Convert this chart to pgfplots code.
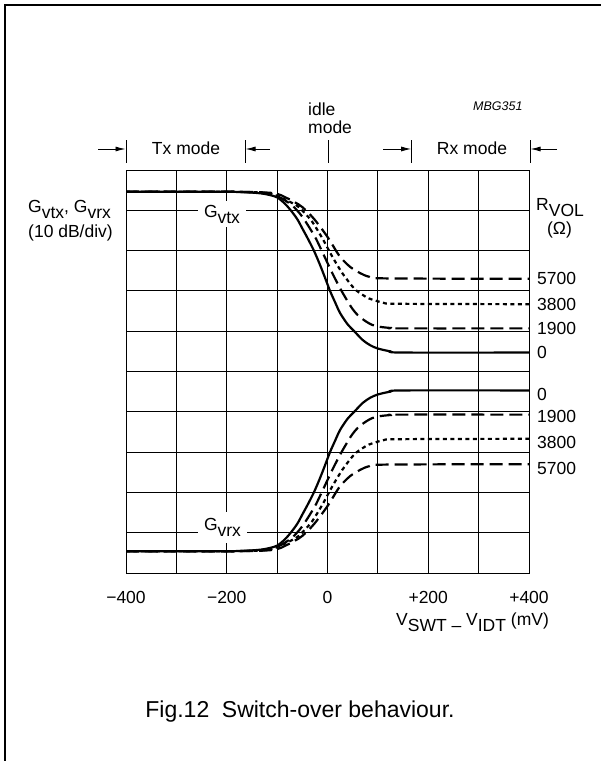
\documentclass[border=0pt]{standalone}
\usepackage{pgfplots}
\pgfplotsset{compat=1.18}
\usepackage{pgfplotstable}
\usepackage{fontspec}
\setmainfont{Liberation Sans}
\usetikzlibrary{arrows.meta}
\newcommand{\lo}[1]{\raisebox{-6pt}{#1}}

% G_vtx curves (x in mV, y in divisions of 10 dB)
\pgfplotstableread{
x y
-400 9.46
-200 9.46
-140 9.43
-115 9.38
-100 9.32
-85 9.17
-73 9.00
-60 8.78
-50 8.55
-40 8.32
-27 8.00
-15 7.65
-5 7.33
5 7.00
15 6.72
25 6.45
40 6.17
53 6.00
70 5.78
85 5.65
100 5.57
125 5.50
150 5.47
400 5.47
}\txzero
\pgfplotstableread{
x y
-400 9.46
-200 9.46
-130 9.43
-100 9.35
-85 9.25
-70 9.12
-55 8.92
-43 8.71
-30 8.45
-23 8.30
-7 7.88
10 7.43
27 7.02
47 6.60
60 6.40
73 6.27
88 6.16
103 6.11
125 6.08
143 6.07
400 6.07
}\txa
\pgfplotstableread{
x y
-400 9.46
-200 9.46
-120 9.43
-90 9.30
-70 9.18
-57 9.08
-43 8.90
-30 8.71
-10 8.30
10 7.84
30 7.43
53 7.06
70 6.90
83 6.81
110 6.71
143 6.68
400 6.67
}\txb
\pgfplotstableread{
x y
-400 9.46
-200 9.46
-110 9.43
-80 9.30
-65 9.20
-50 9.08
-27 8.79
0 8.34
23 7.88
40 7.65
50 7.55
65 7.44
83 7.35
117 7.31
400 7.30
}\txc
% G_vrx curves
\pgfplotstableread{
x y
-400 0.54
-200 0.54
-140 0.57
-115 0.62
-100 0.68
-85 0.83
-73 1.00
-60 1.22
-50 1.45
-40 1.68
-27 2.00
-15 2.35
-5 2.67
5 3.00
15 3.28
25 3.55
40 3.83
53 4.00
70 4.22
85 4.35
100 4.43
125 4.50
150 4.53
400 4.53
}\rxzero
\pgfplotstableread{
x y
-400 0.54
-200 0.54
-130 0.57
-100 0.65
-85 0.75
-70 0.88
-55 1.08
-43 1.29
-30 1.55
-23 1.70
-7 2.12
10 2.57
27 2.98
47 3.40
60 3.60
73 3.73
88 3.84
103 3.89
125 3.92
143 3.93
400 3.93
}\rxa
\pgfplotstableread{
x y
-400 0.54
-200 0.54
-120 0.57
-90 0.70
-70 0.82
-57 0.92
-43 1.10
-30 1.29
-10 1.70
10 2.16
30 2.57
53 2.94
70 3.10
83 3.19
110 3.29
143 3.32
400 3.33
}\rxb
\pgfplotstableread{
x y
-400 0.54
-200 0.54
-110 0.57
-80 0.70
-65 0.80
-50 0.92
-27 1.21
0 1.66
23 2.12
40 2.35
50 2.45
65 2.56
83 2.65
117 2.69
400 2.70
}\rxc

\begin{document}
\begin{tikzpicture}[x=1pt,y=1pt,font=\fontsize{17.5}{21}\selectfont]
\path[use as bounding box] (0,0) rectangle (601,761);
\draw[line width=2pt] (5,0) -- (5,756) -- (601,756);
\begin{axis}[
  at={(126pt,188pt)}, anchor=south west,
  scale only axis, width=403pt, height=403pt,
  xmin=-400, xmax=400, ymin=0, ymax=10,
  xtick={-400,-300,...,400},
  xticklabels={−400,,−200,,0,,+200,,+400},
  ytick={1,2,...,9}, yticklabels={},
  grid=major, major grid style={black, line width=0.8pt},
  major tick length=0pt,
  axis line style={line width=0.9pt},
  xticklabel style={inner sep=0pt, anchor=north, yshift=-18pt, font=\fontsize{17.5}{21}\selectfont},
  /pgf/number format/assume math mode=true,
]
\addplot[black, line width=2.2pt, smooth] table {\txzero};
\addplot[black, line width=2.2pt, smooth, dash pattern=on 13pt off 6pt] table {\txa};
\addplot[black, line width=2.2pt, smooth, dash pattern=on 4pt off 3.5pt] table {\txb};
\addplot[black, line width=2.2pt, smooth, dash pattern=on 13pt off 6pt] table {\txc};
\addplot[black, line width=2.2pt, smooth] table {\rxzero};
\addplot[black, line width=2.2pt, smooth, dash pattern=on 13pt off 6pt] table {\rxa};
\addplot[black, line width=2.2pt, smooth, dash pattern=on 4pt off 3.5pt] table {\rxb};
\addplot[black, line width=2.2pt, smooth, dash pattern=on 13pt off 6pt] table {\rxc};
\end{axis}
% curve labels inside
\node[fill=white, inner xsep=6.5pt, inner ysep=4pt] at (222,547) {G\lo{vtx}};
\node[fill=white, inner xsep=6.5pt, inner ysep=6pt] at (222.5,233.6) {G\lo{vrx}};
% mode header
\foreach \xx in {126,245,328,411.7,530} \draw[line width=0.9pt] (\xx,598) -- (\xx,621);
\draw[line width=0.9pt, -{Latex[length=10pt,width=5pt]}] (98,612) -- (125.5,612);
\draw[line width=0.9pt, -{Latex[length=10pt,width=5pt]}] (270,612) -- (245.5,612);
\draw[line width=0.9pt, -{Latex[length=10pt,width=5pt]}] (383,612) -- (411.2,612);
\draw[line width=0.9pt, -{Latex[length=10pt,width=5pt]}] (557,612) -- (530.5,612);
\node[anchor=base, inner sep=0] at (186,606.7) {Tx mode};
\node[anchor=base, inner sep=0] at (472,606.7) {Rx mode};
\node[anchor=base west, inner sep=0] at (308,645.5) {idle};
\node[anchor=base west, inner sep=0] at (308,627) {mode};
\node[anchor=base west, inner sep=0, font=\fontsize{12.5}{15}\selectfont\itshape] at (473,650.5) {MBG351};
% axis titles
\node[anchor=base west, inner sep=0] at (28,548.5) {G\lo{vtx}, G\lo{vrx}};
\node[anchor=base west, inner sep=0] at (28,523) {(10 dB/div)};
\node[anchor=base west, inner sep=0] at (536,550.3) {R\lo{VOL}};
\node[anchor=base, inner sep=0] at (559.5,526.4) {(Ω)};
\node[anchor=base west, inner sep=0] at (396,135) {V\lo{SWT – }V\lo{IDT} (mV)};
% R_VOL values
\node[anchor=west, inner sep=0] at (537,483) {5700};
\node[anchor=west, inner sep=0] at (537,457) {3800};
\node[anchor=west, inner sep=0] at (537,433) {1900};
\node[anchor=west, inner sep=0] at (537,408.3) {0};
\node[anchor=west, inner sep=0] at (537,367) {0};
\node[anchor=west, inner sep=0] at (537,344.3) {1900};
\node[anchor=west, inner sep=0] at (537,319) {3800};
\node[anchor=west, inner sep=0] at (537,293) {5700};
% caption
\node[anchor=base, inner sep=0, font=\fontsize{23}{27}\selectfont] at (300,43) {Fig.12\hspace{0.55em}Switch-over behaviour.};
\end{tikzpicture}
\end{document}
